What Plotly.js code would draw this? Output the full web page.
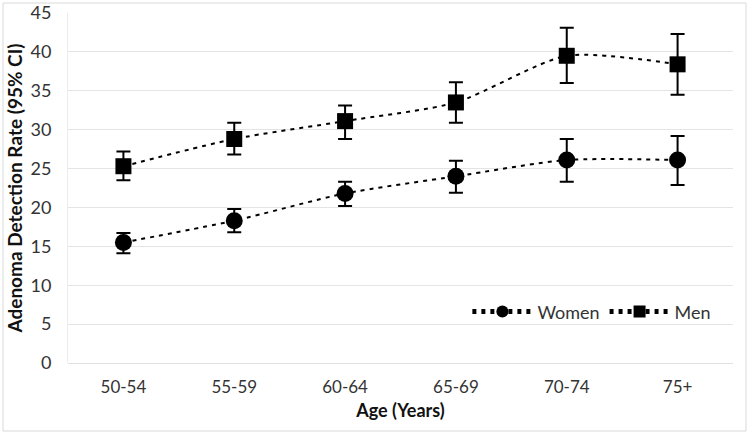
<!DOCTYPE html>
<html>
<head>
<meta charset="utf-8">
<script src="https://cdn.plot.ly/plotly-3.0.1.min.js"></script>
<style>html,body{margin:0;padding:0;background:#fff;}#chart{width:750px;height:434px;}</style>
</head>
<body>
<div id="chart"></div>
<script>
const ageGroups = ["50-54", "55-59", "60-64", "65-69", "70-74", "75+"];
const womenRate = [15.5, 18.3, 21.8, 24.0, 26.1, 26.1];
const womenUpper = [16.7, 19.8, 23.3, 26.0, 28.8, 29.2];
const womenLower = [14.1, 16.8, 20.2, 21.9, 23.3, 22.9];
const menRate = [25.3, 28.8, 31.1, 33.5, 39.5, 38.4];
const menUpper = [27.2, 30.9, 33.1, 36.1, 43.1, 42.3];
const menLower = [23.5, 26.8, 28.8, 30.9, 36.0, 34.5];
const yTicks = [0, 5, 10, 15, 20, 25, 30, 35, 40, 45];

function errPlus(v, u) { return v.map((x, i) => +(u[i] - x).toFixed(2)); }
function errMinus(v, l) { return v.map((x, i) => +(x - l[i]).toFixed(2)); }

const lineStyle = {color: "#000", width: 2, dash: "4px,5px", shape: "spline", smoothing: 0.7};
const errStyle = (v, u, l) => ({type: "data", symmetric: false, array: errPlus(v, u), arrayminus: errMinus(v, l), color: "#000", thickness: 2, width: 7});

const traces = [
  {x: ageGroups, y: womenRate, name: "Women", type: "scatter", mode: "lines+markers",
   line: lineStyle, marker: {symbol: "circle", size: 17, color: "#000"},
   error_y: errStyle(womenRate, womenUpper, womenLower)},
  {x: ageGroups, y: menRate, name: "Men", type: "scatter", mode: "lines+markers",
   line: lineStyle, marker: {symbol: "square", size: 16, color: "#000"},
   error_y: errStyle(menRate, menUpper, menLower)}
];

const font = "Lato, 'Open Sans', sans-serif";
const layout = {
  width: 750, height: 434,
  margin: {l: 68, r: 17, t: 13, b: 71},
  paper_bgcolor: "#fff", plot_bgcolor: "#fff",
  font: {family: font, color: "#333", size: 17},
  showlegend: true,
  legend: {orientation: "h", x: 0.975, xanchor: "right", y: 0.146, yanchor: "middle",
           font: {size: 18, color: "#333"}, itemwidth: 60, itemsizing: "constant",
           bgcolor: "rgba(0,0,0,0)", traceorder: "normal"},
  xaxis: {type: "category", range: [-0.5, 5.5], showgrid: false, zeroline: false, showline: false,
          ticks: "", ticklabelstandoff: 12, tickfont: {size: 17, color: "#333"},
          title: {text: "<b>Age (Years)</b>", font: {size: 18, color: "#111"}, standoff: 8}},
  yaxis: {range: [0, 45], tickvals: yTicks, showgrid: true, gridcolor: "#e4e4e4", gridwidth: 1,
          zeroline: true, zerolinecolor: "#e0e0e0", zerolinewidth: 1,
          showline: true, linecolor: "#ececec", linewidth: 1,
          ticks: "", ticklabelstandoff: 12, tickfont: {size: 18, color: "#333"},
          title: {text: "<b>Adenoma Detection Rate (95% CI)</b>", font: {size: 19, color: "#111"}, standoff: 2}},
  shapes: [{type: "rect", xref: "paper", yref: "paper",
            x0: -65/665, x1: 1 + 13/665, y0: -68/350, y1: 1 + 10/350,
            line: {color: "#d9d9d9", width: 1}, fillcolor: "rgba(0,0,0,0)", layer: "below"}]
};

Plotly.newPlot("chart", traces, layout, {displayModeBar: false, staticPlot: true});
</script>
</body>
</html>
